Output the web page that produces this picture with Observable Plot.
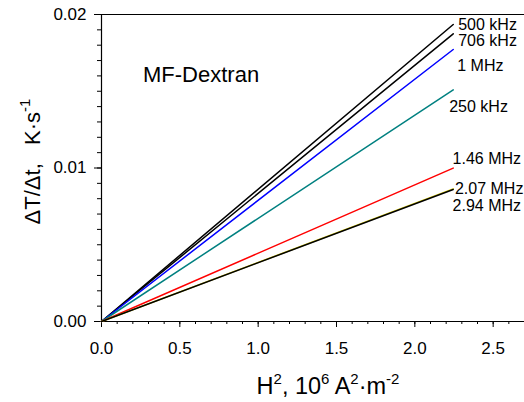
<!DOCTYPE html>
<html><head><meta charset="utf-8">
<script src="https://cdn.jsdelivr.net/npm/d3@7"></script>
<script src="https://cdn.jsdelivr.net/npm/@observablehq/plot@0.6"></script>
<style>
html,body{margin:0;padding:0;background:#fff;}
#chart svg{display:block;}
</style></head><body><div id="chart"></div>
<script>
// ---- data ----
const seriesNames = ["500 kHz", "706 kHz", "1 MHz", "250 kHz", "1.46 MHz", "2.07 MHz", "2.94 MHz"];
const hSquared = [0, 2.245];               // H^2, 10^6 A^2 m^-2 (line start / end)
const rate500kHz = [0, 0.01935];
const rate706kHz = [0, 0.01874];
const rate1MHz   = [0, 0.01772];
const rate250kHz = [0, 0.01509];
const rate146MHz = [0, 0.00999];
const rate207MHz = [0, 0.00864];
const rate294MHz = [0, 0.00860];
const xTicks = [0, 0.5, 1, 1.5, 2, 2.5];
const xTickLabels = ["0.0", "0.5", "1.0", "1.5", "2.0", "2.5"];
const yTicks = [0, 0.01, 0.02];
const yTickLabels = ["0.00", "0.01", "0.02"];
const xMinorTicks = d3.range(0, 27).map(i => i / 10);
const yMinorTicks = d3.range(0, 21).map(i => i / 1000);
const titleText = "MF-Dextran";

// ---- styles ----
const rates = [rate500kHz, rate706kHz, rate1MHz, rate250kHz, rate146MHz, rate207MHz, rate294MHz];
const colors = ["#000000", "#000000", "#0000ff", "#008080", "#ff0000", "#d4c800", "#000000"];
const labelOffsets = [[5, 0], [5, 7], [4, 16.5], [-4, 16.7], [-0.6, -9.4], [1.7, -0.5], [-0.6, 16]];
const font = "'Liberation Sans', Arial, Helvetica, sans-serif";

const series = seriesNames.map((name, i) => ({
  name, color: colors[i],
  rows: hSquared.map((h, j) => ({h, rate: rates[i][j]}))
}));

const marks = [];
// frame lines
marks.push(Plot.ruleY([0, 0.02], {stroke: "#000", strokeWidth: 1.2}));
marks.push(Plot.ruleX([0], {stroke: "#000", strokeWidth: 1.2}));
// minor ticks
marks.push(Plot.axisX({ticks: xMinorTicks, tickSize: 3, tickFormat: () => "", label: null, strokeWidth: 1}));
marks.push(Plot.axisY({ticks: yMinorTicks, tickSize: 4, tickFormat: () => "", label: null, strokeWidth: 1}));
// major ticks
marks.push(Plot.axisX({ticks: xTicks, tickSize: 6, tickPadding: 14, fontSize: 17,
  tickFormat: (d) => xTickLabels[xTicks.indexOf(d)], label: null, strokeWidth: 1}));
marks.push(Plot.axisY({ticks: yTicks, tickSize: 7, tickPadding: 8, fontSize: 17,
  tickFormat: (d) => yTickLabels[yTicks.indexOf(d)], label: null, strokeWidth: 1}));
// lines
series.forEach(s => {
  marks.push(Plot.line(s.rows, {x: "h", y: "rate", stroke: s.color, strokeWidth: 1.5}));
});
// end labels
series.forEach((s, i) => {
  const last = s.rows[s.rows.length - 1];
  marks.push(Plot.text([last], {x: "h", y: "rate", text: () => s.name, textAnchor: "start",
    dx: labelOffsets[i][0], dy: labelOffsets[i][1], fontSize: 16, fill: "#000"}));
});

const chart = Plot.plot({
  width: 524, height: 402,
  marginLeft: 101, marginRight: 0, marginTop: 14, marginBottom: 81,
  style: {fontFamily: font, background: "#fff", color: "#000", overflow: "visible"},
  x: {domain: [0, 2.7], axis: null},
  y: {domain: [0, 0.02], axis: null},
  marks
});
document.getElementById("chart").appendChild(chart);

// title and axis labels with super-scripts
const svg = d3.select(chart);
svg.append("text").attr("x", 143).attr("y", 82).attr("font-size", 22).attr("text-anchor", "start")
  .attr("font-family", font).attr("fill", "#000").text(titleText);

function addLabel(g, parts) {
  parts.forEach(([t, sup]) => {
    const ts = g.append("tspan").text(t);
    if (sup) ts.attr("font-size", 15).attr("baseline-shift", "10px");
  });
}
const xl = svg.append("text").attr("x", 328).attr("y", 394).attr("text-anchor", "middle")
  .attr("font-size", 23.5).attr("font-family", font).attr("fill", "#000").style("white-space", "pre");
addLabel(xl, [["H"], ["2", true], [", 10"], ["6", true], [" A"], ["2", true], ["·m"], ["-2", true]]);

const yl = svg.append("text").attr("transform", "translate(40,161.5) rotate(-90)").attr("text-anchor", "middle")
  .attr("font-size", 22).attr("font-family", font).attr("fill", "#000").style("white-space", "pre");
addLabel(yl, [["ΔT/Δt,   K·s"], ["-1", true]]);
</script></body></html>
